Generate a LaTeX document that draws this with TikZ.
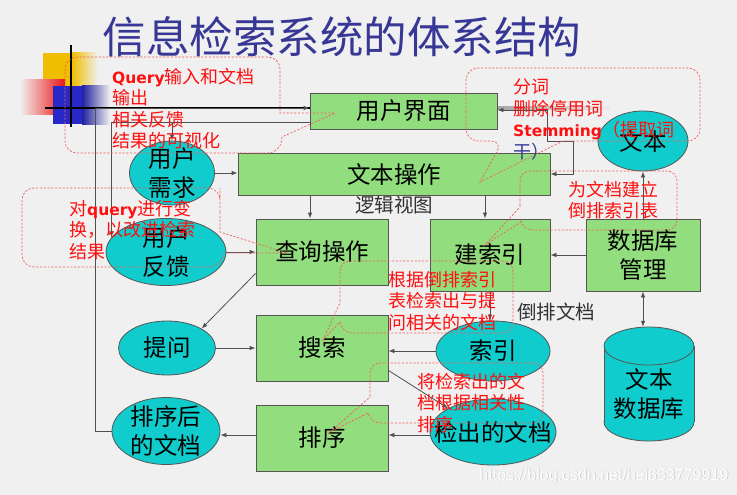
\documentclass[tikz,border=0pt]{standalone}
\usepackage{fontspec}
\setmainfont{Noto Sans CJK SC}
\newfontfamily\vb{DejaVu Sans}
\newfontfamily\wm{Liberation Sans}
\usetikzlibrary{shapes.geometric,arrows.meta,calc}
\definecolor{bg}{RGB}{240,240,240}
\definecolor{boxgreen}{RGB}{146,222,126}
\definecolor{ellcyan}{RGB}{17,204,204}
\definecolor{boxborder}{RGB}{85,85,85}
\definecolor{titleblue}{RGB}{55,55,150}
\definecolor{callred}{RGB}{240,95,95}
\definecolor{notered}{RGB}{255,15,15}
\definecolor{linegray}{RGB}{80,80,80}
\definecolor{labgray}{RGB}{50,50,50}
\definecolor{decoyellow}{RGB}{240,190,0}
\definecolor{decored}{RGB}{235,20,20}
\definecolor{decoblue}{RGB}{40,40,200}
\tikzset{
  box/.style={draw=boxborder, fill=boxgreen, line width=0.8pt, inner sep=0pt, align=center, font=\fontsize{23.5}{28.5}\selectfont},
  ell/.style={ellipse, draw=boxborder, fill=ellcyan, line width=0.8pt, inner sep=0pt},
  elltext/.style={inner sep=0pt, align=center, font=\fontsize{23.5}{28.5}\selectfont},
  conn/.style={draw=linegray, line width=0.8pt, -{Latex[length=6pt,width=4.5pt]}},
  callout/.style={draw=callred, line width=0.7pt, dash pattern=on 2.2pt off 1.6pt},
  rtext/.style={text=notered, inner sep=0pt, anchor=north west, align=left, font=\fontsize{18}{21.5}\selectfont},
  glabel/.style={text=labgray, inner sep=0pt, font=\fontsize{19.5}{23}\selectfont}
}
\begin{document}
\begin{tikzpicture}[x=1pt,y=-1pt]
\useasboundingbox (0,0) rectangle (737,495);
\fill[bg] (0,0) rectangle (737,495);

% slide decoration
\fill[decoyellow] (43,53) rectangle (72,87);
\shade[left color=decoyellow,right color=bg] (72,53) rectangle (98,87);
\shade[left color=bg,right color=decored] (20,80) rectangle (65,115);
\fill[decoblue] (53,86) rectangle (82,124);
\shade[left color=decoblue!80!black,right color=bg] (82,86) rectangle (110,124);
\draw[line width=2pt] (71,45) -- (71,127);
\draw[line width=2.5pt,black] (45,108) -- (497,108);
\shade[left color=gray!70,right color=gray!15] (497,107) rectangle (610,110);

% title
\node[text=titleblue, inner sep=0pt, font=\fontsize{43.5}{50}\selectfont] (title) at (342,37) {信息检索系统的体系结构};

% nodes
\node[box,minimum width=187pt,minimum height=36pt] (ui) at (403.5,111) {用户界面};
\node[box,minimum width=312pt,minimum height=42pt] (textop) at (394,174) {文本操作};
\node[box,minimum width=132pt,minimum height=66pt] (query) at (322,252) {查询操作};
\node[box,minimum width=120pt,minimum height=72pt] (buildidx) at (490,255) {建索引};
\node[box,minimum width=114pt,minimum height=72pt] (dbm) at (643,255) {数据库\\管理};
\node[box,minimum width=132pt,minimum height=66pt] (search) at (322,348) {搜索};
\node[box,minimum width=132pt,minimum height=66pt] (sort) at (322,438) {排序};

\node[ell,minimum width=85pt,minimum height=64pt] (uneed) at (172,173) {};
\node[ell,minimum width=120pt,minimum height=67pt] (ufb) at (166,252) {};
\node[ell,minimum width=97pt,minimum height=54pt] (ask) at (167,348) {};
\node[ell,minimum width=108pt,minimum height=67pt] (sorted) at (166,431) {};
\node[ell,minimum width=114pt,minimum height=60pt] (idx) at (493,351) {};
\node[ell,minimum width=126pt,minimum height=66pt] (ret) at (493,432) {};
\node[ell,minimum width=90pt,minimum height=60pt] (doc) at (643,141) {};

% cylinder: text database
\node[inner sep=0pt,minimum width=90pt,minimum height=114pt] (textdb) at (649,384) {};
\draw[boxborder,line width=0.8pt,fill=ellcyan] (649,422) ellipse [x radius=45, y radius=19];
\fill[ellcyan] (604,346) rectangle (694,422);
\draw[boxborder,line width=0.8pt] (604,346) -- (604,422) (694,346) -- (694,422);
\draw[boxborder,line width=0.8pt,fill=ellcyan] (649,346) ellipse [x radius=45, y radius=19];

% node texts for ellipses
\node[elltext] at (uneed) {用户\\需求};
\node[elltext] at (ufb) {用户\\反馈};
\node[elltext] at (ask) {提问};
\node[elltext] at (sorted) {排序后\\的文档};
\node[elltext] at (idx) {索引};
\node[elltext] at (ret) {检出的文档};
\node[elltext] at (doc) {文本};
\node[elltext] at (649,394) {文本\\数据库};

% connectors
\draw[conn] (ui.west |- 0,122) -| (ufb.165);
\draw[conn] (uneed.north |- 0,122) -- (uneed.north);
\draw[conn] (sorted.west) -| (95,108) -- (ui.west |- 0,108);
\draw[conn] (uneed.east) -- (textop.west |- uneed.east);
\draw[conn] (textop.south -| 310,0) -- (query.north -| 310,0);
\draw[conn] (textop.south -| 485,0) -- (buildidx.north -| 485,0);
\draw[conn] (ufb.east) -- (query.west |- ufb.east);
\draw[conn] ($(query.south west)+(0,-12)$) -- (ask.north east);
\draw[conn] (ask.east) -- (search.west |- ask.east);
\draw[conn] (dbm.west) -- (buildidx.east);
\draw[conn] (buildidx.south) -- (buildidx.south |- idx.north);
\draw[draw=linegray, line width=0.8pt, {Latex[length=6pt,width=4.5pt]}-{Latex[length=6pt,width=4.5pt]}] (dbm.south) -- (dbm.south |- textdb.north);
\draw[conn] (dbm.north) -- (doc.south);
\draw[conn] (idx.west) -- (search.east |- idx.west);
\draw[conn] ($(search.south east)+(0,-11)$) -- (ret.north west);
\draw[conn] (ret.west |- 0,435) -- (sort.east |- 0,435);
\draw[conn] (sort.west |- 0,435) -- (sorted.east |- 0,435);
\coordinate (j) at (547,110);
\draw[conn] (j) -- (ui.east |- j);
\draw[conn] (j) -- (547,141) -| ($(textop.east)+(23,0)$) -- (textop.east);

% labels
\node[glabel] (lv) at (394,205) {逻辑视图};
\node[glabel] (dt) at (556,312) {倒排文档};

% callouts
\draw[callout] (280,100) -- (280,113) -- (335,113) -- (282,137) [rounded corners=12pt] -- (280,153) -- (65,153) -- (65,57) -- (280,57) -- cycle;
\draw[callout] (466,100) [rounded corners=12pt] -- (466,141) -- (503,141) [sharp corners] -- (480,182) -- (563,141) [rounded corners=12pt] -- (700,141) -- (700,68) -- (466,68) -- cycle;
\draw[callout] (220,200) -- (220,232) -- (287,253) -- (224,253) [rounded corners=12pt] -- (220,267) -- (22,267) -- (22,188) -- (220,188) -- cycle;
\draw[callout] (520,195) -- (520,207) -- (485,245) -- (521,222) [rounded corners=10pt] -- (522,230) -- (677,230) -- (677,171) -- (520,171) -- cycle;
\draw[callout] (340,290) -- (340,303) -- (323,340) -- (340,322) [rounded corners=10pt] -- (342,333) -- (513,333) -- (513,261) -- (340,261) -- cycle;
\draw[callout] (370,385) -- (370,397) -- (330,432) -- (368,413) [rounded corners=10pt] -- (370,423) -- (543,423) -- (543,363) -- (370,363) -- cycle;

% callout texts
\node[rtext] (noteA) at (112,68) {{\vb\bfseries\fontsize{15.5}{21.5}\selectfont Query}输入和文档\\输出\\相关反馈\\结果的可视化};
\node[rtext] (noteB) at (513,79) {分词\\删除停用词\\{\vb\bfseries\fontsize{15.5}{21.5}\selectfont Stemming}（提取词\\{\color{titleblue}干）}};
\node[rtext] (noteC) at (69,200) {对{\vb\bfseries\fontsize{15.5}{21.5}\selectfont query}进行变\\换，以改进检索\\结果};
\node[rtext] (noteD) at (568,181) {为文档建立\\倒排索引表};
\node[rtext] (noteE) at (388,271) {根据倒排索引\\表检索出与提\\问相关的文档};
\node[rtext] (noteF) at (417,373) {将检索出的文\\档根据相关性\\排序};

% watermark
\node[text=gray!45, inner sep=0pt, font=\wm\fontsize{16}{18}\selectfont] at (604.7,476.7) {https://blog.csdn.net/hei653779919};
\node[text=white, inner sep=0pt, font=\wm\fontsize{16}{18}\selectfont] (wmark) at (604,476) {https://blog.csdn.net/hei653779919};
\end{tikzpicture}
\end{document}
